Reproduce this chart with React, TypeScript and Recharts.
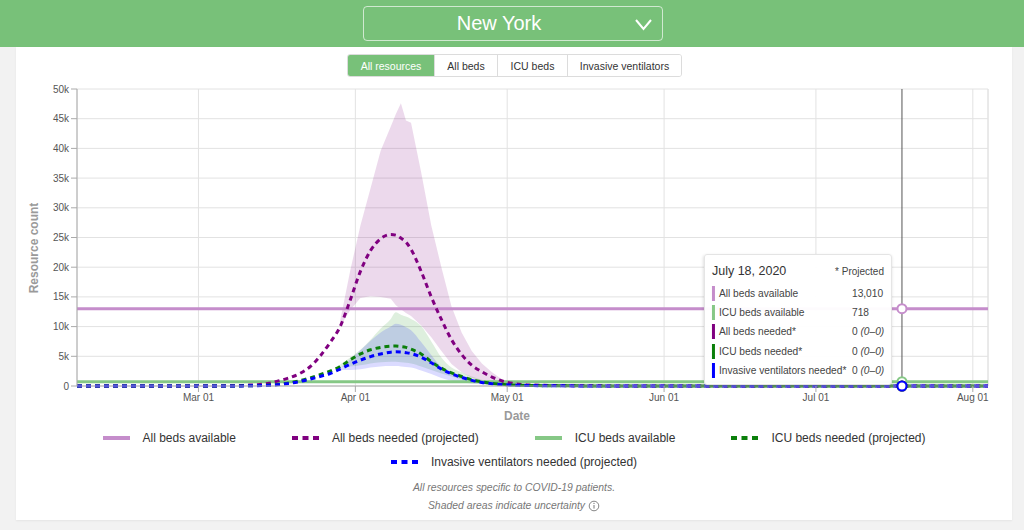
import React from 'react';
import {
  ComposedChart,
  Line,
  Area,
  XAxis,
  YAxis,
  CartesianGrid,
  Tooltip,
  ReferenceLine,
} from 'recharts';

const FONT = '"Liberation Sans", Arial, Helvetica, sans-serif';

// ---------- content ----------
const locationName = 'New York';
const resourceTabs = ['All resources', 'All beds', 'ICU beds', 'Invasive ventilators'];
const footerNotes = ['All resources specific to COVID-19 patients.', 'Shaded areas indicate uncertainty'];

// ---------- data ----------
const domainStart = '2020-02-06';
const domainEnd = '2020-08-04';
const tooltipDate = '2020-07-18';

const dates = [
  '2020-02-06', '2020-03-01', '2020-03-07', '2020-03-11', '2020-03-15', '2020-03-17',
  '2020-03-19', '2020-03-21', '2020-03-23', '2020-03-25', '2020-03-27', '2020-03-29',
  '2020-03-31', '2020-04-02', '2020-04-04', '2020-04-06', '2020-04-08', '2020-04-09',
  '2020-04-10', '2020-04-11', '2020-04-12', '2020-04-14', '2020-04-16', '2020-04-18',
  '2020-04-20', '2020-04-22', '2020-04-24', '2020-04-26', '2020-04-28', '2020-04-30',
  '2020-05-02', '2020-05-04', '2020-05-08', '2020-05-16', '2020-06-01', '2020-07-01',
  '2020-07-18', '2020-08-04',
];

const allBedsAvailable = 13010;
const icuBedsAvailable = 718;

const allBedsNeeded = [
  0, 0, 30, 150, 450, 900, 1400, 2100, 3200, 5000, 7300, 10000, 14500, 19300, 22800, 24800,
  25500, 25400, 24900, 24200, 23000, 19300, 15000, 11200, 7800, 5300, 3500, 2400, 1500, 850,
  450, 250, 120, 40, 0, 0, 0, 0,
];
const icuBedsNeeded = [
  0, 0, 10, 40, 150, 300, 550, 900, 1350, 1900, 2500, 3300, 4400, 5400, 6100, 6500, 6700,
  6720, 6650, 6500, 6200, 5400, 4100, 3000, 2200, 1600, 1050, 700, 450, 280, 180, 120, 60,
  20, 0, 0, 0, 0,
];
const ventilatorsNeeded = [
  0, 0, 10, 30, 120, 250, 450, 750, 1150, 1600, 2100, 2850, 3650, 4350, 4950, 5400, 5700,
  5750, 5720, 5600, 5450, 4850, 3900, 2850, 2050, 1450, 950, 600, 380, 240, 150, 100, 50, 15,
  0, 0, 0, 0,
];

const N = null;
const allBedsLow = [
  N, N, N, N, N, N, N, N, N, N, N,
  10000, 12800, 14800, 15100, 15000, 14700, 13600, 12900, 12300, 11800, 10200, 8200, 5900,
  3700, 2300, 1400, 900, 600, 400, 300, 240, 100, 30, 0, 0, 0, 0,
];
const allBedsHigh = [
  N, N, N, N, N, N, N, N, N, N, N,
  11000, 19500, 27000, 33300, 39600, 43700, 45800, 47600, 44700, 44300, 36000, 27000, 20000,
  13400, 9000, 5900, 3800, 2300, 1100, 500, 260, 140, 50, 10, 0, 0, 0,
];
const icuLow = [
  N, N, N, N, N, N, N, N, N, N, N,
  3200, 3300, 3500, 3800, 4000, 4100, 4100, 4000, 3900, 3800, 3300, 2700, 2100, 1600, 1100,
  750, 500, 320, 200, 130, 90, 45, 15, 0, 0, 0, 0,
];
const icuHigh = [
  N, N, N, N, N, N, N, N, N, N, N,
  3600, 4800, 6100, 7800, 9700, 11300, 12400, 12000, 11700, 11300, 10100, 7500, 4800, 3100,
  2300, 1600, 1050, 600, 350, 200, 150, 75, 25, 0, 0, 0, 0,
];
const ventLow = [
  N, N, N, N, N, N, N, N, N, N, N,
  2700, 2700, 2800, 3100, 3300, 3350, 3350, 3300, 3200, 3100, 2600, 2000, 1350, 900, 620,
  420, 280, 180, 110, 70, 50, 25, 8, 0, 0, 0, 0,
];
const ventHigh = [
  N, N, N, N, N, N, N, N, N, N, N,
  3000, 4500, 6000, 7600, 9000, 10000, 10500, 10300, 9900, 9400, 7400, 5200, 3200, 2300,
  1600, 1050, 680, 430, 270, 170, 115, 60, 20, 0, 0, 0, 0,
];

const xTickDates = ['2020-03-01', '2020-04-01', '2020-05-01', '2020-06-01', '2020-07-01', '2020-08-01'];
const xTickLabels = ['Mar 01', 'Apr 01', 'May 01', 'Jun 01', 'Jul 01', 'Aug 01'];
const yTicks = [0, 5000, 10000, 15000, 20000, 25000, 30000, 35000, 40000, 45000, 50000];

// ---------- styles ----------
const COLORS = {
  allAvail: '#c58dcb',
  icuAvail: '#86c886',
  allNeed: '#800080',
  icuNeed: '#0b7f0b',
  vent: '#0000ff',
};
const GREEN = '#78c179';
const GRID = '#e2e2e2';

const MONTHS = [
  'January', 'February', 'March', 'April', 'May', 'June', 'July', 'August', 'September',
  'October', 'November', 'December',
];

const parse = (s: string) => s.split('-').map(Number);
const dayOf = (s: string) => {
  const [y, m, d] = parse(s);
  const [y0, m0, d0] = parse(domainStart);
  return Math.round((Date.UTC(y, m - 1, d) - Date.UTC(y0, m0 - 1, d0)) / 86400000);
};
const longDate = (s: string) => {
  const [y, m, d] = parse(s);
  return `${MONTHS[m - 1]} ${d}, ${y}`;
};
const rng = (lo: number | null, hi: number | null) => (lo == null || hi == null ? null : [lo, hi]);

const data = dates.map((d, i) => ({
  day: dayOf(d),
  date: d,
  allAvail: allBedsAvailable,
  icuAvail: icuBedsAvailable,
  allNeed: allBedsNeeded[i],
  icuNeed: icuBedsNeeded[i],
  vent: ventilatorsNeeded[i],
  allRange: rng(allBedsLow[i], allBedsHigh[i]),
  icuRange: rng(icuLow[i], icuHigh[i]),
  ventRange: rng(ventLow[i], ventHigh[i]),
}));

const xTicks = xTickDates.map(dayOf);
const tickLabelByDay: Record<number, string> = {};
xTicks.forEach((t, i) => (tickLabelByDay[t] = xTickLabels[i]));
const tooltipIndex = dates.indexOf(tooltipDate);

const legendItems = [
  { label: 'All beds available', color: COLORS.allAvail, dashed: false },
  { label: 'All beds needed (projected)', color: COLORS.allNeed, dashed: true },
  { label: 'ICU beds available', color: COLORS.icuAvail, dashed: false },
  { label: 'ICU beds needed (projected)', color: COLORS.icuNeed, dashed: true },
  { label: 'Invasive ventilators needed (projected)', color: COLORS.vent, dashed: true },
];

const fmt = (v: number) => v.toLocaleString('en-US');

const TooltipBox = (props: any) => {
  const { active, payload } = props;
  if (!active || !payload || !payload.length) return null;
  const row = payload[0].payload;
  const r = (x: any) => (x ? x : [0, 0]);
  const rows = [
    { label: 'All beds available', color: COLORS.allAvail, value: fmt(row.allAvail), range: null },
    { label: 'ICU beds available', color: COLORS.icuAvail, value: fmt(row.icuAvail), range: null },
    { label: 'All beds needed*', color: COLORS.allNeed, value: fmt(row.allNeed), range: r(row.allRange) },
    { label: 'ICU beds needed*', color: COLORS.icuNeed, value: fmt(row.icuNeed), range: r(row.icuRange) },
    { label: 'Invasive ventilators needed*', color: COLORS.vent, value: fmt(row.vent), range: r(row.ventRange) },
  ];
  return (
    <div
      style={{
        width: 188,
        height: 131,
        boxSizing: 'border-box',
        background: 'rgba(255,255,255,0.96)',
        border: '1px solid #e4e4e4',
        borderRadius: 3,
        boxShadow: '0 1px 3px rgba(0,0,0,0.12)',
        padding: '3px 7px 0 7px',
        fontFamily: FONT,
        color: '#444',
      }}
    >
      <div style={{ height: 26, display: 'flex', alignItems: 'center', justifyContent: 'space-between' }}>
        <span style={{ fontSize: 12.5, color: '#333' }}>{longDate(row.date)}</span>
        <span style={{ fontSize: 10, color: '#444' }}>* Projected</span>
      </div>
      {rows.map((it) => (
        <div key={it.label} style={{ height: 19.2, display: 'flex', alignItems: 'center' }}>
          <span style={{ width: 3, height: 15, background: it.color, marginRight: 4, flex: 'none' }} />
          <span style={{ width: 133, fontSize: 10.2, whiteSpace: 'nowrap', flex: 'none' }}>{it.label}</span>
          <span style={{ fontSize: 10.2, whiteSpace: 'nowrap' }}>
            {it.value}
            {it.range ? (
              <i>{` (${fmt(it.range[0])}–${fmt(it.range[1])})`}</i>
            ) : null}
          </span>
        </div>
      ))}
    </div>
  );
};

const LegendSwatch = ({ color, dashed }: { color: string; dashed: boolean }) => (
  <svg width={27} height={6} style={{ marginRight: 13, flex: 'none' }}>
    {dashed ? (
      [0, 10.5, 21].map((x) => <rect key={x} x={x} y={1} width={6} height={4} fill={color} />)
    ) : (
      <rect x={0} y={1} width={27} height={4} fill={color} />
    )}
  </svg>
);

export default function App() {
  return (
    <div
      style={{
        position: 'absolute',
        left: 0,
        top: 0,
        width: 1024,
        height: 530,
        overflow: 'hidden',
        background: '#f2f2f2',
        fontFamily: FONT,
      }}
    >
      {/* header */}
      <div style={{ position: 'absolute', left: 0, top: 0, width: 1024, height: 47, background: GREEN }} />
      <div
        style={{
          position: 'absolute',
          left: 363,
          top: 6,
          width: 300,
          height: 35,
          boxSizing: 'border-box',
          border: '1.5px solid rgba(255,255,255,0.65)',
          borderRadius: 4,
          display: 'flex',
          alignItems: 'center',
          justifyContent: 'center',
          color: '#fff',
          fontSize: 20,
        }}
      >
        <span style={{ marginLeft: -28 }}>{locationName}</span>
        <svg width={18} height={12} style={{ position: 'absolute', left: 271, top: 12 }}>
          <polyline points="1,1 8.5,10 16,1" fill="none" stroke="#fff" strokeWidth={2} />
        </svg>
      </div>

      {/* card */}
      <div
        style={{
          position: 'absolute',
          left: 16,
          top: 47,
          width: 996,
          height: 473,
          background: '#fff',
          boxShadow: '0 1px 2px rgba(0,0,0,0.06)',
        }}
      />

      {/* resource tabs */}
      <div
        style={{
          position: 'absolute',
          left: 347,
          top: 54,
          height: 23,
          display: 'flex',
          border: '1px solid #dcdcdc',
          borderRadius: 3,
          overflow: 'hidden',
          boxSizing: 'border-box',
        }}
      >
        {resourceTabs.map((t, i) => (
          <div
            key={t}
            style={{
              width: [86, 63, 70, 114][i],
              height: 21,
              display: 'flex',
              alignItems: 'center',
              justifyContent: 'center',
              fontSize: 10.5,
              background: i === 0 ? GREEN : '#fff',
              color: i === 0 ? '#fff' : '#333',
              borderLeft: i === 0 ? 'none' : '1px solid #dcdcdc',
              boxSizing: 'border-box',
            }}
          >
            {t}
          </div>
        ))}
      </div>

      {/* axis titles */}
      <div
        style={{
          position: 'absolute',
          left: 34,
          top: 248,
          transform: 'translate(-50%, -50%) rotate(-90deg)',
          fontSize: 12,
          fontWeight: 'bold',
          color: '#9a9a9a',
          whiteSpace: 'nowrap',
        }}
      >
        Resource count
      </div>
      <div
        style={{
          position: 'absolute',
          left: 517,
          top: 416,
          transform: 'translate(-50%, -50%)',
          fontSize: 12,
          fontWeight: 'bold',
          color: '#9a9a9a',
        }}
      >
        Date
      </div>

      {/* chart */}
      <div style={{ position: 'absolute', left: 0, top: 80, width: 1000, height: 345 }}>
        <ComposedChart
          width={1000}
          height={345}
          data={data}
          margin={{ top: 9, right: 12, bottom: 9, left: 17 }}
        >
          <CartesianGrid stroke={GRID} strokeWidth={1} />
          <XAxis
            dataKey="day"
            type="number"
            domain={[0, dayOf(domainEnd)]}
            ticks={xTicks}
            tickFormatter={(v: number) => tickLabelByDay[v] || ''}
            tick={{ fontSize: 10, fill: '#555', fontFamily: FONT }}
            stroke="#aaa"
            height={30}
            allowDataOverflow
          />
          <YAxis
            type="number"
            domain={[0, 50000]}
            ticks={yTicks}
            tickFormatter={(v: number) => (v === 0 ? '0' : `${v / 1000}k`)}
            tick={{ fontSize: 10, fill: '#555', fontFamily: FONT }}
            stroke="#aaa"
            width={60}
            interval={0}
          />
          <ReferenceLine x={dayOf(domainEnd)} stroke={GRID} />

          <Area
            dataKey="allRange"
            type="linear"
            stroke="none"
            fill={COLORS.allNeed}
            fillOpacity={0.15}
            activeDot={false}
            isAnimationActive={false}
          />
          <Area
            dataKey="icuRange"
            type="monotone"
            stroke="none"
            fill="#008000"
            fillOpacity={0.13}
            activeDot={false}
            isAnimationActive={false}
          />
          <Area
            dataKey="ventRange"
            type="monotone"
            stroke="none"
            fill={COLORS.vent}
            fillOpacity={0.14}
            activeDot={false}
            isAnimationActive={false}
          />

          <Line
            dataKey="allAvail"
            type="monotone"
            stroke={COLORS.allAvail}
            strokeWidth={3}
            dot={false}
            activeDot={{ r: 4.5, fill: '#fff', stroke: COLORS.allAvail, strokeWidth: 2 }}
            isAnimationActive={false}
          />
          <Line
            dataKey="icuAvail"
            type="monotone"
            stroke={COLORS.icuAvail}
            strokeWidth={3}
            dot={false}
            activeDot={{ r: 4.5, fill: '#fff', stroke: COLORS.icuAvail, strokeWidth: 2 }}
            isAnimationActive={false}
          />
          <Line
            dataKey="allNeed"
            type="monotone"
            stroke={COLORS.allNeed}
            strokeWidth={3}
            strokeDasharray="5 4"
            dot={false}
            activeDot={{ r: 4.5, fill: '#fff', stroke: COLORS.allNeed, strokeWidth: 2 }}
            isAnimationActive={false}
          />
          <Line
            dataKey="icuNeed"
            type="monotone"
            stroke={COLORS.icuNeed}
            strokeWidth={3}
            strokeDasharray="5 4"
            dot={false}
            activeDot={{ r: 4.5, fill: '#fff', stroke: COLORS.icuNeed, strokeWidth: 2 }}
            isAnimationActive={false}
          />
          <Line
            dataKey="vent"
            type="monotone"
            stroke={COLORS.vent}
            strokeWidth={3}
            strokeDasharray="5 4"
            dot={false}
            activeDot={{ r: 4.5, fill: '#fff', stroke: COLORS.vent, strokeWidth: 2 }}
            isAnimationActive={false}
          />

          <Tooltip
            content={<TooltipBox />}
            defaultIndex={tooltipIndex}
            position={{ y: 174 }}
            cursor={{ stroke: '#555', strokeWidth: 1 }}
            isAnimationActive={false}
            wrapperStyle={{ outline: 'none', zIndex: 5 }}
          />
        </ComposedChart>
      </div>

      {/* legend */}
      <div
        style={{
          position: 'absolute',
          left: 16,
          top: 427,
          width: 996,
          display: 'flex',
          flexWrap: 'wrap',
          justifyContent: 'center',
          columnGap: 56,
          rowGap: 2,
        }}
      >
        {legendItems.map((it) => (
          <div key={it.label} style={{ height: 22, display: 'flex', alignItems: 'center' }}>
            <LegendSwatch color={it.color} dashed={it.dashed} />
            <span style={{ fontSize: 12, color: '#333', whiteSpace: 'nowrap' }}>{it.label}</span>
          </div>
        ))}
      </div>

      {/* footer notes */}
      <div
        style={{
          position: 'absolute',
          left: 16,
          top: 479,
          width: 996,
          textAlign: 'center',
          fontSize: 10.4,
          fontStyle: 'italic',
          color: '#777',
          lineHeight: '18px',
        }}
      >
        <div>{footerNotes[0]}</div>
        <div style={{ display: 'flex', justifyContent: 'center', alignItems: 'center' }}>
          <span>{footerNotes[1]}</span>
          <svg width={12} height={12} style={{ marginLeft: 3 }}>
            <circle cx={6} cy={6} r={4.8} fill="none" stroke="#777" strokeWidth={0.9} />
            <line x1={6} y1={5} x2={6} y2={8.6} stroke="#777" strokeWidth={1} />
            <circle cx={6} cy={3.4} r={0.6} fill="#777" />
          </svg>
        </div>
      </div>
    </div>
  );
}
